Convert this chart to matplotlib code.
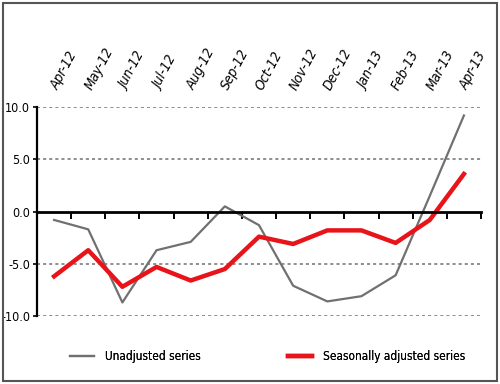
import matplotlib
matplotlib.use('Agg')
import matplotlib.pyplot as plt
import numpy as np

months = ['Apr-12', 'May-12', 'Jun-12', 'Jul-12', 'Aug-12', 'Sep-12', 'Oct-12',
          'Nov-12', 'Dec-12', 'Jan-13', 'Feb-13', 'Mar-13', 'Apr-13']
unadjusted = [-0.8, -1.7, -8.7, -3.7, -2.9, 0.5, -1.3, -7.1, -8.6, -8.1, -6.1, 1.5, 9.2]
seas_adjusted = [-6.2, -3.7, -7.2, -5.3, -6.6, -5.5, -2.4, -3.1, -1.8, -1.8, -3.0, -0.8, 3.6]
yticks = [-10, -5, 0, 5, 10]

plt.rcParams['font.stretch'] = 'condensed'

fig = plt.figure(figsize=(5, 3.84), dpi=100)
ax = fig.add_axes([0.074, 0.177, 0.888, 0.544])

x = np.arange(len(months))
l1, = ax.plot(x, unadjusted, color='#707070', lw=1.6)
l2, = ax.plot(x, seas_adjusted, color='#e8141a', lw=3.2)

ax.set_xlim(-0.5, len(months) - 0.5)
ax.set_ylim(-10, 10)

# dashed grid lines except at zero
for v in yticks:
    if v != 0:
        ax.axhline(v, color='#707070', lw=1.1, ls=(0, (2, 2)), zorder=0)

for s in ['top', 'right']:
    ax.spines[s].set_visible(False)
ax.spines['bottom'].set_position(('data', 0))
ax.spines['bottom'].set_linewidth(2.0)
ax.spines['left'].set_linewidth(1.6)

ax.set_yticks(yticks)
ax.set_yticklabels(['%.1f' % v for v in yticks], fontsize=9)
ax.tick_params(axis='y', length=3, width=1.2, pad=2)

# month labels at the top, ticks at category borders on zero line
ax.set_xticks(x)
ax.set_xticklabels(months, fontsize=10, style='italic', rotation=62,
                   rotation_mode='anchor', ha='left', va='center')
ax.tick_params(axis='x', which='major', length=0, labelbottom=False,
               labeltop=True, pad=13)
ax.set_xticks(np.arange(0.5, len(months)), minor=True)
ax.tick_params(axis='x', which='minor', length=5, width=1.4, direction='out')

# two legend entries placed like the original
for line, lab, x0 in [(l1, 'Unadjusted series', 0.14), (l2, 'Seasonally adjusted series', 0.576)]:
    leg = fig.legend([line], [lab], loc='center left', bbox_to_anchor=(x0, 0.072),
                     frameon=False, fontsize=8.5, handlelength=2.0, handletextpad=1.0,
                     borderpad=0, borderaxespad=0)
    fig.add_artist(leg)

fig.patches.append(plt.Rectangle((0.006, 0.008), 0.988, 0.984, transform=fig.transFigure,
                                 fill=False, edgecolor='#555555', lw=1.5))

fig.savefig('out.png', dpi=100)
